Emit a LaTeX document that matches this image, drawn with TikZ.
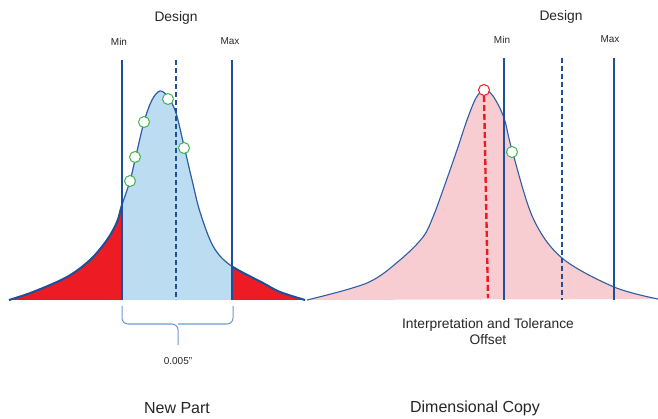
\documentclass[tikz,border=0pt]{standalone}
\usepackage{fontspec}
\setmainfont{Liberation Sans}
\definecolor{dblue}{HTML}{1E4F9A}
\definecolor{cblue}{HTML}{2C5DA6}
\definecolor{lblue}{HTML}{BCDCF2}
\definecolor{rfill}{HTML}{ED1C24}
\definecolor{pfill}{HTML}{F7CDD1}
\definecolor{gcol}{HTML}{3CB44B}
\definecolor{bcol}{HTML}{6A9AD0}
\begin{document}
\begin{tikzpicture}[x=1pt,y=-1pt,
  vline/.style={draw=dblue,line width=2.2pt},
  dline/.style={draw=dblue,line width=2.2pt,dash pattern=on 5pt off 3pt},
  rdline/.style={draw=rfill,line width=2.4pt,dash pattern=on 6pt off 3pt},
  curveline/.style={draw=cblue,line width=1.2pt},
  gcirc/.style={circle,draw=gcol,fill=white,line width=1pt,minimum size=11pt,inner sep=0pt},
  rcirc/.style={circle,draw=rfill,fill=white,line width=1pt,minimum size=11pt,inner sep=0pt},
  title/.style={font=\fontsize{13.8}{16}\selectfont,text=black!85},
  small/.style={font=\fontsize{10}{12}\selectfont,text=black!85},
  big/.style={font=\fontsize{16}{19}\selectfont,text=black!85}]
\useasboundingbox (0,0) rectangle (658,419);

% ---------- left curve (New Part) ----------
\fill[rfill] plot[smooth,tension=0.55] coordinates {(9,300) (33,292) (67,277) (90,260) (107,240) (117,222) (122,205) (130,181) (135,160) (144,122) (152,100) (160,91) (168,97) (176,113) (184,146) (192,180) (200,212) (213,246) (230,265) (263,283) (280,292) (305,300)} -- cycle;
\begin{scope}
\clip (122,0) rectangle (232,419);
\fill[lblue] plot[smooth,tension=0.55] coordinates {(9,300) (33,292) (67,277) (90,260) (107,240) (117,222) (122,205) (130,181) (135,160) (144,122) (152,100) (160,91) (168,97) (176,113) (184,146) (192,180) (200,212) (213,246) (230,265) (263,283) (280,292) (305,300)} -- cycle;
\end{scope}
\draw[curveline] plot[smooth,tension=0.55] coordinates {(9,300) (33,292) (67,277) (90,260) (107,240) (117,222) (122,205) (130,181) (135,160) (144,122) (152,100) (160,91) (168,97) (176,113) (184,146) (192,180) (200,212) (213,246) (230,265) (263,283) (280,292) (305,300)};
\begin{scope}
\clip (0,0) rectangle (122,419) (232,0) rectangle (320,419);
\draw[dblue,line width=2pt] plot[smooth,tension=0.55] coordinates {(9,300) (33,292) (67,277) (90,260) (107,240) (117,222) (122,205) (130,181) (135,160) (144,122) (152,100) (160,91) (168,97) (176,113) (184,146) (192,180) (200,212) (213,246) (230,265) (263,283) (280,292) (305,300)};
\end{scope}

\coordinate (lminT) at (122,60);  \coordinate (lminB) at (122,300);
\coordinate (lmaxT) at (232,60);  \coordinate (lmaxB) at (232,300);
\coordinate (lnomT) at (176,60);  \coordinate (lnomB) at (176,300);
\draw[vline] (lminT) -- (lminB);
\draw[vline] (lmaxT) -- (lmaxB);
\draw[dline] (lnomT) -- (lnomB);

\node[gcirc] (g1) at (130,181) {};
\node[gcirc] (g2) at (135,157) {};
\node[gcirc] (g3) at (144,122) {};
\node[gcirc] (g4) at (168,99) {};
\node[gcirc] (g5) at (184,148) {};

\node[title] (ldesign) at (176,18) {Design};
\node[small] (lmin) at (119,42) {Min};
\node[small] (lmax) at (230,41) {Max};

% brace
\coordinate (bl) at (122,306);
\coordinate (br) at (233,306);
\coordinate (bm) at (178,324);
\coordinate (bt) at (178,345);
\draw[bcol,line width=1pt,rounded corners=6pt] (bl) |- (bm) -- (bt);
\draw[bcol,line width=1pt,rounded corners=6pt] (br) |- (bm);
\node[small] (tol) at (178,361) {0.005”};
\node[big] (newpart) at (177,408) {New Part};

% ---------- right curve (Dimensional Copy) ----------
\fill[pfill] plot[smooth,tension=0.55] coordinates {(307,300) (367,283) (400,260) (423,237) (433,217) (443,190) (457,150) (467,120) (476,98) (484,90) (493,96) (504,118) (512,150) (533,218) (562,258) (614,287) (658,299)} -- cycle;
\draw[cblue,line width=1.1pt] plot[smooth,tension=0.55] coordinates {(307,300) (367,283) (400,260) (423,237) (433,217) (443,190) (457,150) (467,120) (476,98) (484,90) (493,96) (504,118) (512,150) (533,218) (562,258) (614,287) (658,299)};

\coordinate (rminT) at (504,58);  \coordinate (rminB) at (504,300);
\coordinate (rmaxT) at (614,58);  \coordinate (rmaxB) at (614,300);
\coordinate (rnomT) at (562,58);  \coordinate (rnomB) at (562,300);
\draw[vline] (rminT) -- (rminB);
\draw[vline] (rmaxT) -- (rmaxB);
\draw[dline] (rnomT) -- (rnomB);

\node[rcirc] (rpk) at (484,90) {};
\coordinate (rdB) at (488,298);
\draw[rdline] (rpk.south) -- (rdB);
\node[gcirc] (g6) at (512,152) {};

\node[title] (rdesign) at (561,17) {Design};
\node[small] (rmin) at (502,40) {Min};
\node[small] (rmax) at (610,39) {Max};

\node[title,align=center] (interp) at (488,332) {Interpretation and Tolerance\\Offset};
\node[big] (dimcopy) at (475,408) {Dimensional Copy};
\end{tikzpicture}
\end{document}
